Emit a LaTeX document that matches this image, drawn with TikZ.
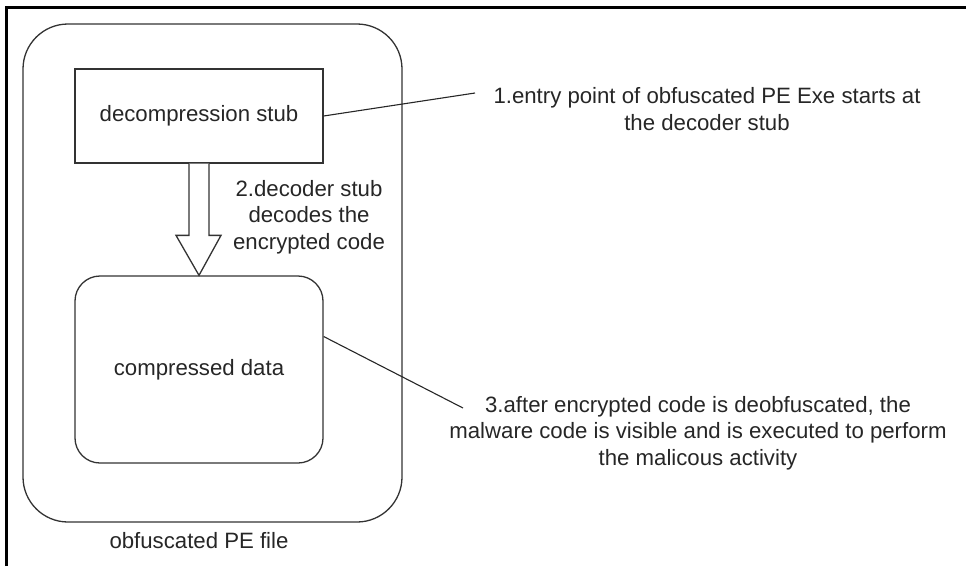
\documentclass[tikz,border=0pt]{standalone}
\usepackage{fontspec}
\setmainfont{Liberation Sans}
\usetikzlibrary{calc}
\begin{document}
\begin{tikzpicture}[x=1pt,y=-1pt,
  box/.style={draw=black!80,line width=1.3pt,minimum width=248pt,inner sep=0pt},
  lbl/.style={align=center,font=\fontsize{22.2}{26.5}\selectfont,text=black!85,inner sep=0pt},
  leader/.style={draw=black!85,line width=1.1pt}]
\useasboundingbox (0,0) rectangle (966,566);
\draw[line width=3pt] (6,566) -- (6,7) -- (966,7);
\node[box,minimum width=379pt,minimum height=498pt,rounded corners=45pt] (outer) at (212.5,273) {};
\node[box,minimum height=94pt,lbl] (stub) at (199,116) {decompression stub};
\node[box,minimum height=187pt,rounded corners=25pt,lbl] (cdata) at (199,369.5) {compressed data};
\node[lbl] (plabel) at (199,541) {obfuscated PE file};
\node[lbl] (t2) at (309,217) {2.decoder stub\\decodes the\\encrypted code};
\node[lbl] (t1) at (707,109) {1.entry point of obfuscated PE Exe starts at\\the decoder stub};
\node[lbl] (t3) at (698,433) {3.after encrypted code is deobfuscated, the\\malware code is visible and is executed to perform\\the malicous activity};
\draw[box,fill=white,line join=miter] ($(stub.south)+(-10,0)$) -- ($(cdata.north)+(-10,-40)$) -- ($(cdata.north)+(-23,-40)$) -- (cdata.north) -- ($(cdata.north)+(22,-40)$) -- ($(cdata.north)+(10,-40)$) -- ($(stub.south)+(10,0)$);
\coordinate (e1) at (475,93);
\coordinate (s3) at ($(cdata.east)+(0,-33)$);
\coordinate (e3) at (463,408);
\draw[leader] (stub.east) -- (e1);
\draw[leader] (s3) -- (e3);
\end{tikzpicture}
\end{document}
